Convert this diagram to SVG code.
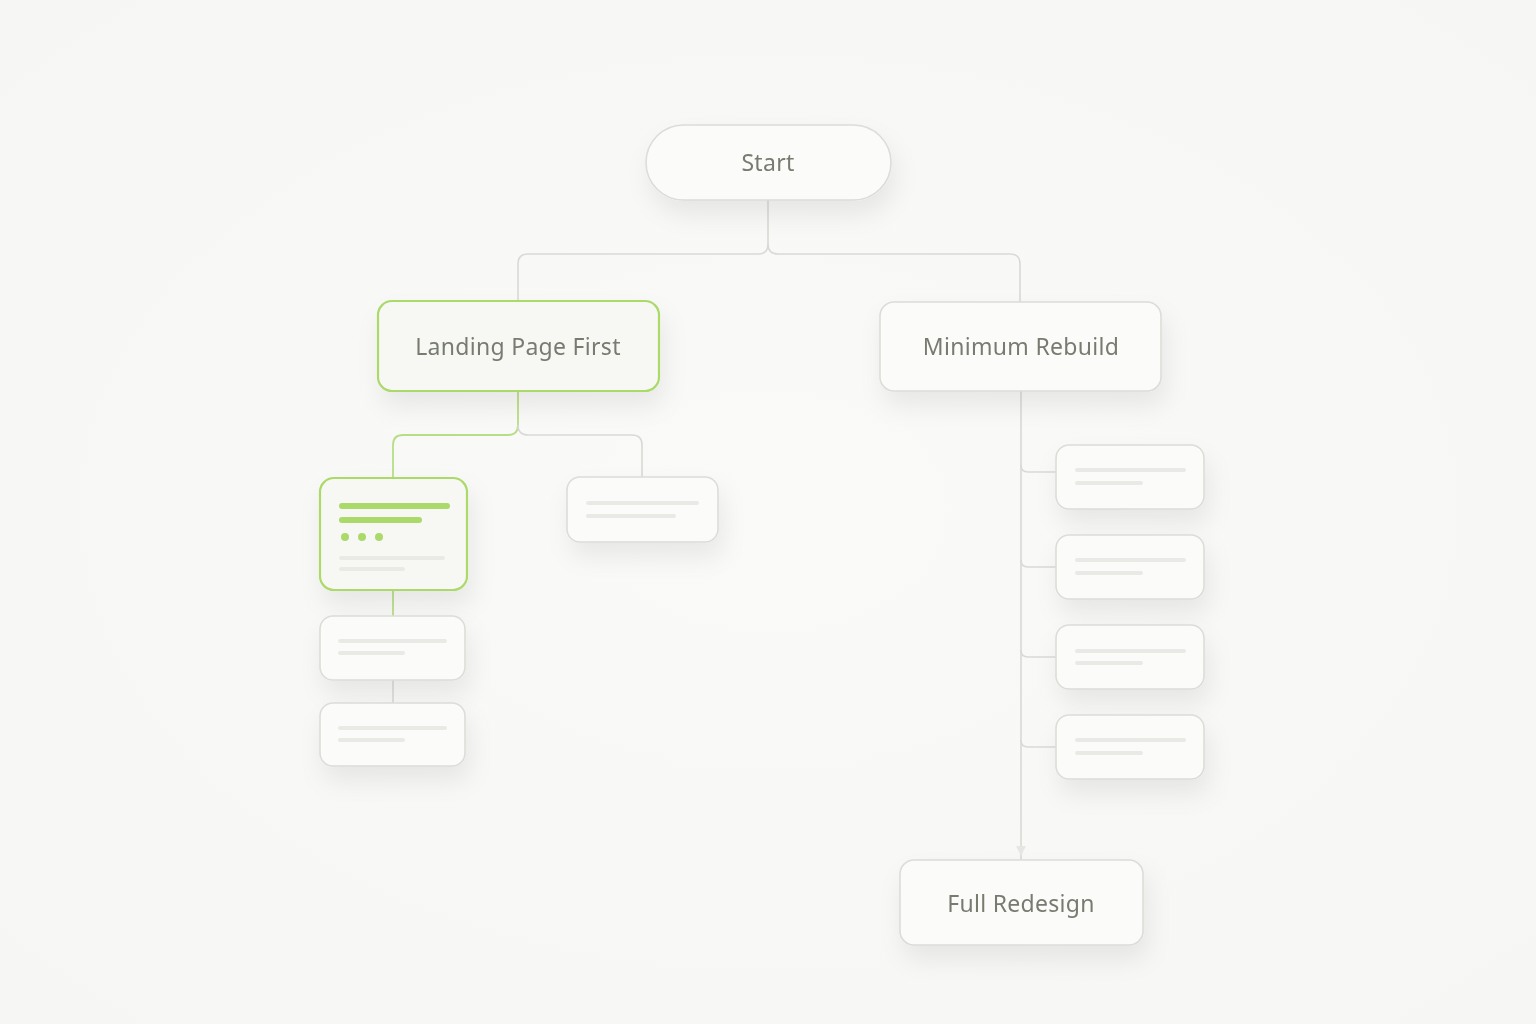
<svg xmlns="http://www.w3.org/2000/svg" width="1536" height="1024" viewBox="0 0 1536 1024">
<defs>
<filter id="sh" x="-30%" y="-30%" width="160%" height="190%">
<feDropShadow dx="4" dy="14" stdDeviation="12" flood-color="#000" flood-opacity="0.07"/>
</filter>
<radialGradient id="bg" cx="50%" cy="50%" r="70%">
<stop offset="0" stop-color="#fafaf9"/>
<stop offset="1" stop-color="#f6f6f4"/>
</radialGradient>
</defs>
<style>
.node{fill:#fbfbfa;stroke:#dcdcd8;stroke-width:1.6}
.green{fill:#f7f8f4;stroke:#abd96a;stroke-width:2.2}
.lbl{font-family:"Noto Sans","Liberation Sans",sans-serif;font-size:23px;letter-spacing:0.3px;fill:#787b70;text-anchor:middle;dominant-baseline:central}
.ph{stroke:#e9e9e6;stroke-width:4;stroke-linecap:round}
.phg{stroke:#abd96a;stroke-width:6;stroke-linecap:round}
.c{fill:none;stroke:#d9d9d5;stroke-width:1.6}
.cg{fill:none;stroke:#b8dd86;stroke-width:1.8}
</style>
<rect width="1536" height="1024" fill="url(#bg)"/>
<g id="connectors">
<path class="c" d="M768 200 V244 Q768 254 758 254 H528 Q518 254 518 264 V301"/>
<path class="c" d="M768 244 Q768 254 778 254 H1010 Q1020 254 1020 264 V302"/>
<path class="cg" d="M518 391 V425 Q518 435 508 435 H403 Q393 435 393 445 V478"/>
<path class="c" d="M518 425 Q518 435 528 435 H632 Q642 435 642 445 V477"/>
<path class="cg" d="M393 590 V616"/>
<path class="c" d="M393 680 V703"/>
<path class="c" d="M1021 391 V860"/>
<path class="c" d="M1021 465 Q1021 472 1028 472 H1056"/>
<path class="c" d="M1021 560 Q1021 567 1028 567 H1056"/>
<path class="c" d="M1021 650 Q1021 657 1028 657 H1056"/>
<path class="c" d="M1021 740 Q1021 747 1028 747 H1056"/>
<path d="M1016 846 L1021 856 L1026 846 Z" fill="#e6e6e3"/>
</g>
<g id="start" filter="url(#sh)">
<rect class="node" x="646" y="125" width="245" height="75" rx="37.5"/>
<text class="lbl" x="768" y="162">Start</text>
</g>
<g id="landing" filter="url(#sh)">
<rect class="green" x="378" y="301" width="281" height="90" rx="14"/>
<text class="lbl" x="518" y="346">Landing Page First</text>
</g>
<g id="minimum" filter="url(#sh)">
<rect class="node" x="880" y="302" width="281" height="89" rx="14"/>
<text class="lbl" x="1021" y="346">Minimum Rebuild</text>
</g>
<g id="full" filter="url(#sh)">
<rect class="node" x="900" y="860" width="243" height="85" rx="14"/>
<text class="lbl" x="1021" y="903">Full Redesign</text>
</g>
<g id="card-green" filter="url(#sh)">
<rect class="green" x="320" y="478" width="147" height="112" rx="14"/>
<line class="phg" x1="342" y1="506" x2="447" y2="506"/>
<line class="phg" x1="342" y1="520" x2="419" y2="520"/>
<circle cx="345" cy="537" r="4" fill="#abd96a"/>
<circle cx="362" cy="537" r="4" fill="#abd96a"/>
<circle cx="379" cy="537" r="4" fill="#abd96a"/>
<line class="ph" x1="341" y1="558" x2="443" y2="558" stroke-width="3.5"/>
<line class="ph" x1="341" y1="569" x2="403" y2="569" stroke-width="3"/>
</g>
<g id="card-a" filter="url(#sh)">
<rect class="node" x="567" y="477" width="151" height="65" rx="13"/>
<line class="ph" x1="588" y1="503" x2="697" y2="503"/>
<line class="ph" x1="588" y1="516" x2="674" y2="516"/>
</g>
<g id="card-b" filter="url(#sh)">
<rect class="node" x="320" y="616" width="145" height="64" rx="13"/>
<line class="ph" x1="340" y1="641" x2="445" y2="641"/>
<line class="ph" x1="340" y1="653" x2="403" y2="653"/>
</g>
<g id="card-c" filter="url(#sh)">
<rect class="node" x="320" y="703" width="145" height="63" rx="13"/>
<line class="ph" x1="340" y1="728" x2="445" y2="728"/>
<line class="ph" x1="340" y1="740" x2="403" y2="740"/>
</g>
<g id="card-d" filter="url(#sh)">
<rect class="node" x="1056" y="445" width="148" height="64" rx="13"/>
<line class="ph" x1="1077" y1="470" x2="1184" y2="470"/>
<line class="ph" x1="1077" y1="483" x2="1141" y2="483"/>
</g>
<g id="card-e" filter="url(#sh)">
<rect class="node" x="1056" y="535" width="148" height="64" rx="13"/>
<line class="ph" x1="1077" y1="560" x2="1184" y2="560"/>
<line class="ph" x1="1077" y1="573" x2="1141" y2="573"/>
</g>
<g id="card-f" filter="url(#sh)">
<rect class="node" x="1056" y="625" width="148" height="64" rx="13"/>
<line class="ph" x1="1077" y1="651" x2="1184" y2="651"/>
<line class="ph" x1="1077" y1="663" x2="1141" y2="663"/>
</g>
<g id="card-g" filter="url(#sh)">
<rect class="node" x="1056" y="715" width="148" height="64" rx="13"/>
<line class="ph" x1="1077" y1="740" x2="1184" y2="740"/>
<line class="ph" x1="1077" y1="753" x2="1141" y2="753"/>
</g>
</svg>
